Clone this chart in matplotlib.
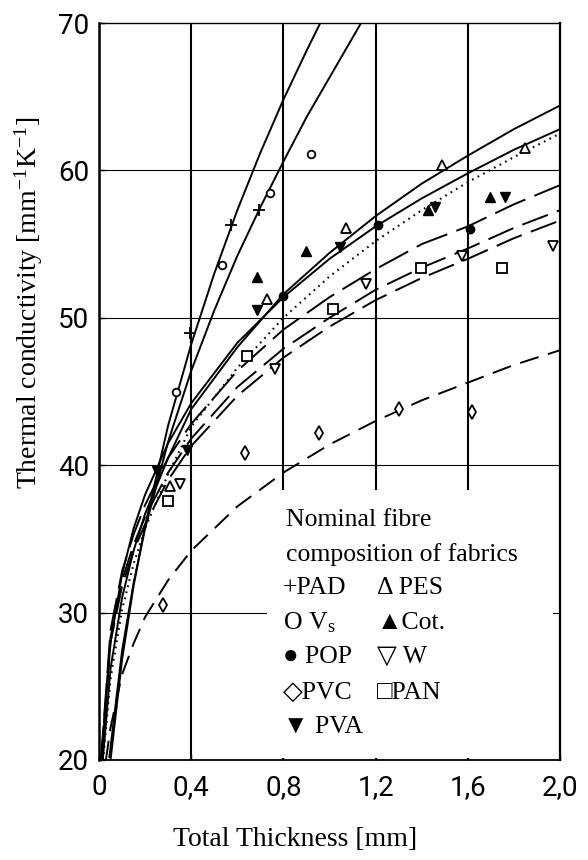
import matplotlib
matplotlib.use("Agg")
import matplotlib.pyplot as plt
from matplotlib.patches import Rectangle

# ---------------- data ----------------
x_ticks = [0, 0.4, 0.8, 1.2, 1.6, 2.0]
x_tick_labels = ["0", "0,4", "0,8", "1,2", "1,6", "2,0"]
y_ticks = [20, 30, 40, 50, 60, 70]
y_tick_labels = ["20", "30", "40", "50", "60", "70"]

# fitted curves (thickness mm, conductivity)
t_PAD = [0.05, 0.1, 0.15, 0.2, 0.3, 0.4, 0.5, 0.6, 0.7, 0.8, 0.9, 0.96]
k_PAD = [20.0, 26.8, 31.8, 35.9, 42.7, 48.2, 53.0, 57.3, 61.2, 64.8, 68.1, 70.0]

t_Vs = [0.045, 0.1, 0.15, 0.2, 0.3, 0.4, 0.5, 0.6, 0.7, 0.8, 0.9, 1.0, 1.137]
k_Vs = [20.2, 27.4, 32.0, 35.7, 41.6, 46.4, 50.5, 54.2, 57.5, 60.6, 63.6, 66.3, 70.0]

t_PES = [0.017, 0.05, 0.1, 0.15, 0.2, 0.3, 0.4, 0.6, 0.8, 1.0, 1.2, 1.4, 1.6, 1.8, 2.0]
k_PES = [20.1, 26.2, 31.0, 34.2, 36.7, 40.5, 43.8, 48.0, 51.6, 54.4, 56.9, 59.1, 61.0, 62.8, 64.4]

t_PVA = [0.011, 0.05, 0.1, 0.15, 0.2, 0.3, 0.4, 0.6, 0.8, 1.0, 1.2, 1.4, 1.6, 1.8, 2.0]
k_PVA = [20.1, 28.0, 32.6, 35.7, 38.0, 41.5, 44.2, 48.3, 51.4, 54.0, 56.2, 58.1, 59.8, 61.4, 62.8]

t_Cot = [0.018, 0.05, 0.1, 0.15, 0.2, 0.3, 0.4, 0.6, 0.8, 1.0, 1.2, 1.4, 1.6, 1.8, 2.0]
k_Cot = [20.0, 25.5, 30.2, 33.3, 35.7, 39.4, 42.6, 46.6, 50.0, 52.8, 55.2, 57.3, 59.2, 60.9, 62.5]

t_POP = [0.009, 0.05, 0.1, 0.15, 0.2, 0.3, 0.4, 0.6, 0.8, 1.0, 1.2, 1.4, 1.6, 1.8, 2.0]
k_POP = [20.1, 28.8, 32.8, 35.3, 37.3, 40.5, 42.8, 46.4, 49.2, 51.4, 53.3, 55.0, 56.2, 57.7, 59.0]

t_W = [0.0095, 0.05, 0.1, 0.15, 0.2, 0.3, 0.4, 0.6, 0.8, 1.0, 1.2, 1.4, 1.6, 1.8, 2.0]
k_W = [20.0, 28.3, 32.2, 34.6, 36.5, 39.5, 41.8, 45.3, 47.9, 50.0, 51.9, 53.4, 54.7, 56.1, 57.3]

t_PAN = [0.01, 0.05, 0.1, 0.15, 0.2, 0.3, 0.4, 0.6, 0.8, 1.0, 1.2, 1.4, 1.6, 1.8, 2.0]
k_PAN = [20.0, 28.0, 31.8, 34.2, 36.0, 39.0, 41.3, 44.7, 47.3, 49.4, 51.2, 52.7, 54.0, 55.4, 56.6]

t_PVC = [0.03, 0.05, 0.1, 0.15, 0.2, 0.3, 0.4, 0.6, 0.8, 1.0, 1.2, 1.4, 1.6, 1.8, 2.0]
k_PVC = [20.0, 22.2, 25.8, 27.9, 29.7, 32.2, 34.2, 37.2, 39.5, 41.4, 43.0, 44.4, 45.6, 46.8, 47.8]

# measured points
pad_x = [0.395, 0.573, 0.695]
pad_y = [49.0, 56.3, 57.3]
vs_x = [0.334, 0.533, 0.742, 0.92]
vs_y = [45.0, 53.6, 58.5, 61.1]
pop_x = [0.8, 1.21, 1.61]
pop_y = [51.5, 56.3, 56.0]
pvc_x = [0.278, 0.633, 0.955, 1.30, 1.62]
pvc_y = [30.5, 40.8, 42.2, 43.8, 43.6]
pva_x = [0.25, 0.38, 0.685, 1.045, 1.458, 1.76]
pva_y = [39.6, 41.0, 50.5, 54.8, 57.5, 58.2]
pes_x = [0.31, 0.728, 1.07, 1.488, 1.85]
pes_y = [38.6, 51.3, 56.1, 60.4, 61.5]
cot_x = [0.685, 0.90, 1.428, 1.696]
cot_y = [52.8, 54.5, 57.3, 58.2]
w_x = [0.351, 0.764, 1.16, 1.575, 1.97]
w_y = [38.7, 46.5, 52.3, 54.2, 54.9]
pan_x = [0.30, 0.642, 1.015, 1.397, 1.748]
pan_y = [37.6, 47.4, 50.6, 53.4, 53.4]

legend_title = ["Nominal fibre", "composition of fabrics"]
legend_col1 = ["+PAD", "O V$_\\mathregular{s}$", "\u25CF POP", "\u25C7PVC", "\u25BC PVA"]
legend_col2 = ["\u0394 PES", "\u25B2Cot.", "\u25BD W", "\u25A1PAN"]

# ---------------- figure ----------------
plt.rcParams["mathtext.fontset"] = "stix"
W, H = 588, 860
fig = plt.figure(figsize=(W / 100, H / 100), dpi=100)
ax = fig.add_axes([99 / W, 1 - 760 / H, 461 / W, 737 / H])

ax.set_xlim(0, 2.0)
ax.set_ylim(20, 70)

# grid
ax.set_axisbelow(True)
for xv in x_ticks[1:-1]:
    ax.axvline(xv, color="black", lw=1.5, zorder=0.5)
for yv in y_ticks[1:-1]:
    ax.axhline(yv, color="black", lw=0.8, zorder=0.5)

# white legend area (covers grid)
ax.add_patch(Rectangle((0.73, 20.15), 1.24, 18.15, facecolor="white",
                       edgecolor="none", zorder=1))

lw = 1.4
ax.plot(t_PAD, k_PAD, color="black", lw=lw, zorder=2)
ax.plot(t_Vs, k_Vs, color="black", lw=lw, zorder=2)
ax.plot(t_PES, k_PES, color="black", lw=lw, zorder=2)
ax.plot(t_PVA, k_PVA, color="black", lw=lw, zorder=2)
ax.plot(t_Cot, k_Cot, color="black", lw=1.5, ls=(0, (0.8, 2.2)), zorder=2)
ax.plot(t_POP, k_POP, color="black", lw=lw, ls=(0, (17, 5)), zorder=2)
ax.plot(t_W, k_W, color="black", lw=lw, ls=(0, (14, 5)), zorder=2)
ax.plot(t_PAN, k_PAN, color="black", lw=lw, ls=(0, (14, 5)), zorder=2)
ax.plot(t_PVC, k_PVC, color="black", lw=lw, ls=(0, (10, 5)), zorder=2)

mk = dict(color="black", ls="none", zorder=3)
ax.plot(pad_x, pad_y, marker="+", ms=8, mew=1.3, **mk)
ax.plot(vs_x, vs_y, marker="o", ms=5.5, mfc="white", mew=1.3, **mk)
ax.plot(pop_x, pop_y, marker="o", ms=6, **mk)
ax.plot(pvc_x, pvc_y, marker="d", ms=7, mfc="white", mew=1.3, **mk)
ax.plot(pva_x, pva_y, marker="v", ms=6.5, **mk)
ax.plot(pes_x, pes_y, marker="^", ms=7, mfc="white", mew=1.3, **mk)
ax.plot(cot_x, cot_y, marker="^", ms=6.5, **mk)
ax.plot(w_x, w_y, marker="v", ms=7, mfc="white", mew=1.3, **mk)
ax.plot(pan_x, pan_y, marker="s", ms=7, mfc="white", mew=1.3, **mk)

# spines and ticks
for side, w_ in (("left", 1.8), ("right", 1.6), ("bottom", 1.3), ("top", 1.0)):
    ax.spines[side].set_linewidth(w_)
    ax.spines[side].set_color("black")

tick_font = ["Roboto", "DejaVu Sans"]
ax.set_xticks(x_ticks)
ax.set_xticklabels(x_tick_labels, family=tick_font, fontsize=20)
ax.set_yticks(y_ticks)
ax.set_yticklabels(y_tick_labels, family=tick_font, fontsize=20)
ax.tick_params(axis="both", direction="in", length=4, width=1.0)
ax.tick_params(axis="x", pad=10)
ax.tick_params(axis="y", pad=7)

serif = ["Liberation Serif", "DejaVu Sans"]


def fx(px):
    return px / W


def fy(py):
    return 1 - py / H


fig.text(fx(29), fy(303), "Thermal conductivity [mm$^{\\mathregular{-1}}$K$^{\\mathregular{-1}}$]",
         rotation=90, ha="center", va="center", family=serif, fontsize=20)
fig.text(fx(295), fy(840), "Total Thickness [mm]", ha="center", va="center",
         family=serif, fontsize=20)

# legend text
row_y = [520, 555, 588, 623, 657, 693, 727]
for i, s in enumerate(legend_title):
    fig.text(fx(286), fy(row_y[i]), s, ha="left", va="center", family=serif, fontsize=18.5)
for i, s in enumerate(legend_col1):
    fig.text(fx(283), fy(row_y[i + 2]), s, ha="left", va="center", family=serif, fontsize=18.5)
for i, s in enumerate(legend_col2):
    fig.text(fx(377), fy(row_y[i + 2]), s, ha="left", va="center", family=serif, fontsize=18.5)

fig.savefig("out.png", dpi=100)
